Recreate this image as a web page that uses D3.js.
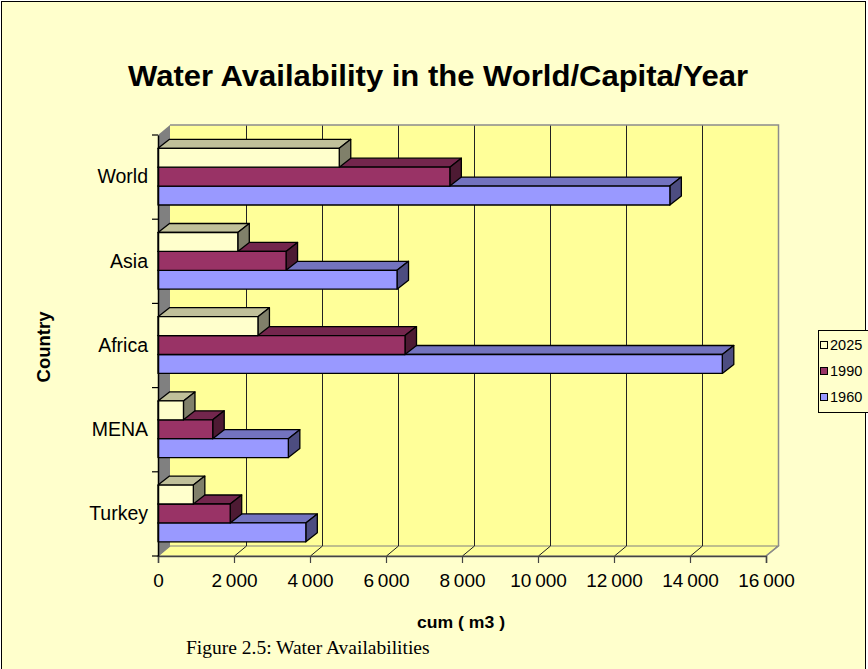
<!DOCTYPE html>
<html>
<head>
<meta charset="utf-8">
<script src="https://cdn.jsdelivr.net/npm/d3@7"></script>
<style>
  body { margin: 0; background: #ffffff; }
  svg { display: block; }
  text { font-family: "Liberation Sans", Arial, sans-serif; fill: #000; }
</style>
</head>
<body>
<svg id="chart" width="868" height="669"></svg>
<script>
// Water availability per capita per year (cubic metres)
const categories = ["World", "Asia", "Africa", "MENA", "Turkey"];
const seriesNames = ["2025", "1990", "1960"];
const values2025 = [4770, 2100, 2630, 670, 930];
const values1990 = [7680, 3370, 6500, 1440, 1900];
const values1960 = [13470, 6290, 14850, 3430, 3890];
const xTicks = [0, 2000, 4000, 6000, 8000, 10000, 12000, 14000, 16000];

const seriesValues = { "2025": values2025, "1990": values1990, "1960": values1960 };
const seriesColors = {
  "2025": { front: "#FFFFCC", top: "#C0C09A", side: "#80806A" },
  "1990": { front: "#993366", top: "#73264D", side: "#4D1A33" },
  "1960": { front: "#9999FF", top: "#7373BF", side: "#4D4D80" }
};

const svg = d3.select("#chart");

// chart area
svg.append("rect")
  .attr("x", 1.5).attr("y", 1.5).attr("width", 864).attr("height", 700)
  .attr("fill", "#FFFFCC").attr("stroke", "#000").attr("stroke-width", 1);

// 3D geometry: front plane of the plot and depth offsets
const plot = { left: 158, right: 766, top: 135, bottom: 556 };
const wallDepth = { dx: 12, dy: -10 };
const barDepth = { dx: 11.5, dy: -9 };

const x = d3.scaleLinear().domain([0, 16000]).range([plot.left, plot.right]);
const y = d3.scaleBand().domain(categories).range([plot.top, plot.bottom]);
const groupOffset = 13.3;
const ySeries = d3.scaleBand().domain(seriesNames).range([0, 56.7]);

const poly = pts => pts.map(p => p.join(",")).join(" ");

// back wall
const bw = {
  left: plot.left + wallDepth.dx, right: plot.right + wallDepth.dx,
  top: plot.top + wallDepth.dy, bottom: plot.bottom + wallDepth.dy
};
svg.append("rect")
  .attr("x", bw.left).attr("y", bw.top)
  .attr("width", bw.right - bw.left).attr("height", bw.bottom - bw.top)
  .attr("fill", "#FFFF99");

// floor
svg.append("polygon")
  .attr("points", poly([[plot.left, plot.bottom], [bw.left, bw.bottom], [bw.right, bw.bottom], [plot.right, plot.bottom]]))
  .attr("fill", "#FFFF99").attr("stroke", "#808080").attr("stroke-width", 1.2);

// left wall
svg.append("polygon")
  .attr("points", poly([[plot.left, plot.top], [bw.left, bw.top], [bw.left, bw.bottom], [plot.left, plot.bottom]]))
  .attr("fill", "#808080");

// gridlines on back wall and across floor
const grid = svg.append("g").attr("stroke", "#222").attr("stroke-width", 1).attr("fill", "none");
xTicks.filter(t => t > 0 && t < 16000).forEach(t => {
  const xf = Math.round(x(t)) + 0.5;
  const xb = xf + wallDepth.dx;
  grid.append("polyline")
    .attr("points", poly([[xb, bw.top], [xb, bw.bottom], [xf, plot.bottom]]));
});

// back wall outline (top and right edges)
svg.append("polyline")
  .attr("points", poly([[bw.left, bw.top], [bw.right + 0.5, bw.top], [bw.right + 0.5, bw.bottom], [plot.right, plot.bottom]]))
  .attr("fill", "none").attr("stroke", "#8C8C8C").attr("stroke-width", 1.5);

// bars: lower bars first so the upper bars of each group sit in front
const barsG = svg.append("g").attr("stroke", "#000").attr("stroke-width", 1.3).attr("stroke-linejoin", "round");
categories.slice().reverse().forEach(cat => {
  const ci = categories.indexOf(cat);
  seriesNames.slice().reverse().forEach(s => {
    const v = seriesValues[s][ci];
    const x0 = x(0), x1 = x(v);
    const y0 = y(cat) + groupOffset + ySeries(s);
    const y1 = y0 + ySeries.bandwidth();
    const c = seriesColors[s];
    const g = barsG.append("g");
    g.append("polygon")
      .attr("points", poly([[x0, y0], [x0 + barDepth.dx, y0 + barDepth.dy], [x1 + barDepth.dx, y0 + barDepth.dy], [x1, y0]]))
      .attr("fill", c.top);
    g.append("polygon")
      .attr("points", poly([[x1, y0], [x1 + barDepth.dx, y0 + barDepth.dy], [x1 + barDepth.dx, y1 + barDepth.dy], [x1, y1]]))
      .attr("fill", c.side);
    g.append("rect")
      .attr("x", x0).attr("y", y0).attr("width", x1 - x0).attr("height", y1 - y0)
      .attr("fill", c.front);
  });
});

// value axis along the front of the floor
const fmt = d3.formatLocale({ decimal: ",", thousands: "\u2009", grouping: [3], currency: ["", ""] }).format(",d");
const xAxis = d3.axisBottom(x).tickValues(xTicks).tickSize(7).tickPadding(11).tickFormat(fmt);
const xAxisG = svg.append("g").attr("transform", `translate(0,${plot.bottom})`).call(xAxis);
xAxisG.select(".domain").attr("stroke", "#444").attr("stroke-width", 1.5);
xAxisG.selectAll(".tick line").attr("stroke", "#444").attr("stroke-width", 1.2);
xAxisG.selectAll(".tick text")
  .style("font-family", '"Liberation Sans", Arial, sans-serif')
  .style("font-size", "19px").attr("fill", "#000");

// category axis on the front-left edge
const yAxis = d3.axisLeft(y).tickSize(0).tickPadding(10);
const yAxisG = svg.append("g").attr("transform", `translate(${plot.left},0)`).call(yAxis);
yAxisG.select(".domain").attr("stroke", "#000").attr("stroke-width", 1.5);
yAxisG.selectAll(".tick text")
  .style("font-family", '"Liberation Sans", Arial, sans-serif')
  .style("font-size", "19.5px").attr("fill", "#000");
// category separators
const sepG = svg.append("g").attr("stroke", "#000").attr("stroke-width", 1.2);
categories.forEach(c => {
  sepG.append("line").attr("x1", plot.left - 6).attr("x2", plot.left)
    .attr("y1", y(c)).attr("y2", y(c));
});
sepG.append("line").attr("x1", plot.left - 6).attr("x2", plot.left)
  .attr("y1", plot.bottom).attr("y2", plot.bottom);

// title
svg.append("text")
  .attr("x", 438).attr("y", 86).attr("text-anchor", "middle")
  .attr("textLength", 620).attr("lengthAdjust", "spacingAndGlyphs")
  .style("font-size", "30px").style("font-weight", "bold")
  .text("Water Availability in the World/Capita/Year");

// axis titles
svg.append("text")
  .attr("transform", "translate(50,347) rotate(-90)")
  .attr("text-anchor", "middle")
  .style("font-size", "18.5px").style("font-weight", "bold")
  .text("Country");
svg.append("text")
  .attr("x", 461).attr("y", 628).attr("text-anchor", "middle")
  .attr("textLength", 88).attr("lengthAdjust", "spacingAndGlyphs")
  .style("font-size", "17px").style("font-weight", "bold")
  .text("cum ( m3 )");

// legend
const legend = svg.append("g");
legend.append("rect")
  .attr("x", 818.5).attr("y", 330.5).attr("width", 60).attr("height", 82)
  .attr("fill", "#FFFFCC").attr("stroke", "#000").attr("stroke-width", 1);
seriesNames.forEach((s, i) => {
  const cy = 345 + i * 26;
  legend.append("rect")
    .attr("x", 820.5).attr("y", cy - 3.5).attr("width", 7).attr("height", 7)
    .attr("fill", seriesColors[s].front).attr("stroke", "#000").attr("stroke-width", 1);
  legend.append("text")
    .attr("x", 830).attr("y", cy).attr("dy", "0.36em")
    .style("font-size", "14.5px").text(s);
});

// caption
svg.append("text")
  .attr("x", 186).attr("y", 654)
  .style("font-family", '"Liberation Serif", "Times New Roman", serif')
  .style("font-size", "19.5px")
  .text("Figure 2.5: Water Availabilities");
</script>
</body>
</html>
